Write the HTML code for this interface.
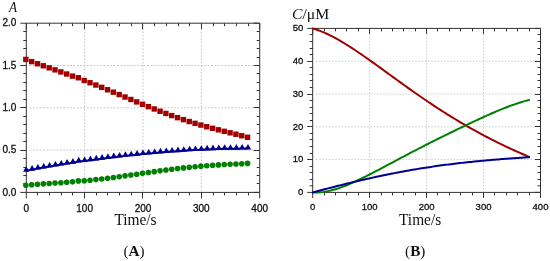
<!DOCTYPE html>
<html><head><meta charset="utf-8"><style>
html,body{margin:0;padding:0;background:#fff;width:550px;height:261px;overflow:hidden}
svg{display:block;will-change:transform}

</style></head><body>
<svg width="550" height="261" viewBox="0 0 550 261">
<rect width="550" height="261" fill="#fff"/>
<path d="M29.66 150.10H259.70 M29.66 107.80H259.70 M29.66 65.50H259.70" stroke="#c4c4c4" stroke-width="1" stroke-dasharray="1.7 1.66" fill="none"/>
<path d="M84.65 23.20V192.40 M143.00 23.20V192.40 M201.35 23.20V192.40" stroke="#c4c4c4" stroke-width="1" stroke-dasharray="1.7 1.66" stroke-dashoffset="1.7" fill="none"/>
<path d="M315.90 159.60H540.50 M315.90 126.80H540.50 M315.90 94.00H540.50 M315.90 61.20H540.50 M369.65 34.40V192.40 M426.60 34.40V192.40 M483.55 34.40V192.40" stroke="#cdcdcd" stroke-width="1" stroke-dasharray="1.6 1.6" fill="none"/>
<path d="M26.30 23.20H259.70V192.40H26.30ZM26.30 192.40v6M26.30 23.20v6M84.50 192.40v6M84.50 23.20v6M142.50 192.40v6M142.50 23.20v6M201.50 192.40v6M201.50 23.20v6M259.70 192.40v6M259.70 23.20v6M37.50 192.40v3M37.50 23.20v3M49.50 192.40v3M49.50 23.20v3M61.50 192.40v3M61.50 23.20v3M72.50 192.40v3M72.50 23.20v3M96.50 192.40v3M96.50 23.20v3M107.50 192.40v3M107.50 23.20v3M119.50 192.40v3M119.50 23.20v3M131.50 192.40v3M131.50 23.20v3M154.50 192.40v3M154.50 23.20v3M166.50 192.40v3M166.50 23.20v3M178.50 192.40v3M178.50 23.20v3M189.50 192.40v3M189.50 23.20v3M213.50 192.40v3M213.50 23.20v3M224.50 192.40v3M224.50 23.20v3M236.50 192.40v3M236.50 23.20v3M248.50 192.40v3M248.50 23.20v3M26.30 192.40h-6M259.70 192.40h-6M26.30 150.50h-6M259.70 150.50h-6M26.30 107.50h-6M259.70 107.50h-6M26.30 65.50h-6M259.70 65.50h-6M26.30 23.20h-6M259.70 23.20h-6M26.30 183.50h-3M259.70 183.50h-3M26.30 175.50h-3M259.70 175.50h-3M26.30 167.50h-3M259.70 167.50h-3M26.30 158.50h-3M259.70 158.50h-3M26.30 141.50h-3M259.70 141.50h-3M26.30 133.50h-3M259.70 133.50h-3M26.30 124.50h-3M259.70 124.50h-3M26.30 116.50h-3M259.70 116.50h-3M26.30 99.50h-3M259.70 99.50h-3M26.30 90.50h-3M259.70 90.50h-3M26.30 82.50h-3M259.70 82.50h-3M26.30 73.50h-3M259.70 73.50h-3M26.30 57.50h-3M259.70 57.50h-3M26.30 48.50h-3M259.70 48.50h-3M26.30 40.50h-3M259.70 40.50h-3M26.30 31.50h-3M259.70 31.50h-3" stroke="#333" stroke-width="1.0" fill="none"/>
<g fill="#008000"><circle cx="25.85" cy="185.19" r="2.8"/><circle cx="31.68" cy="184.70" r="2.8"/><circle cx="37.52" cy="184.26" r="2.8"/><circle cx="43.35" cy="183.87" r="2.8"/><circle cx="49.19" cy="183.49" r="2.8"/><circle cx="55.02" cy="183.11" r="2.8"/><circle cx="60.86" cy="182.71" r="2.8"/><circle cx="66.69" cy="182.29" r="2.8"/><circle cx="72.53" cy="181.84" r="2.8"/><circle cx="78.36" cy="180.88" r="2.8"/><circle cx="84.20" cy="180.82" r="2.8"/><circle cx="90.03" cy="180.23" r="2.8"/><circle cx="95.87" cy="179.61" r="2.8"/><circle cx="101.70" cy="178.93" r="2.8"/><circle cx="107.54" cy="178.22" r="2.8"/><circle cx="113.38" cy="177.47" r="2.8"/><circle cx="119.21" cy="176.68" r="2.8"/><circle cx="125.04" cy="175.87" r="2.8"/><circle cx="130.88" cy="175.04" r="2.8"/><circle cx="136.72" cy="174.19" r="2.8"/><circle cx="142.55" cy="173.34" r="2.8"/><circle cx="148.38" cy="172.49" r="2.8"/><circle cx="154.22" cy="171.66" r="2.8"/><circle cx="160.06" cy="170.84" r="2.8"/><circle cx="165.89" cy="170.05" r="2.8"/><circle cx="171.72" cy="169.29" r="2.8"/><circle cx="177.56" cy="168.57" r="2.8"/><circle cx="183.40" cy="167.89" r="2.8"/><circle cx="189.23" cy="167.26" r="2.8"/><circle cx="195.07" cy="166.68" r="2.8"/><circle cx="200.90" cy="166.16" r="2.8"/><circle cx="206.74" cy="165.68" r="2.8"/><circle cx="212.57" cy="165.26" r="2.8"/><circle cx="218.40" cy="164.88" r="2.8"/><circle cx="224.24" cy="164.55" r="2.8"/><circle cx="230.07" cy="164.25" r="2.8"/><circle cx="235.91" cy="163.96" r="2.8"/><circle cx="241.74" cy="163.69" r="2.8"/><circle cx="247.58" cy="163.41" r="2.8"/></g>
<path fill="#000090" d="M26.25 166.15l3.20 5.60h-6.40zM32.09 165.03l3.20 5.60h-6.40zM37.92 163.95l3.20 5.60h-6.40zM43.76 162.91l3.20 5.60h-6.40zM49.59 161.89l3.20 5.60h-6.40zM55.42 160.90l3.20 5.60h-6.40zM61.26 159.94l3.20 5.60h-6.40zM67.09 159.02l3.20 5.60h-6.40zM72.93 158.12l3.20 5.60h-6.40zM78.77 156.87l3.20 5.60h-6.40zM84.60 156.41l3.20 5.60h-6.40zM90.43 155.59l3.20 5.60h-6.40zM96.27 154.81l3.20 5.60h-6.40zM102.10 154.05l3.20 5.60h-6.40zM107.94 153.31l3.20 5.60h-6.40zM113.78 152.61l3.20 5.60h-6.40zM119.61 151.93l3.20 5.60h-6.40zM125.44 151.27l3.20 5.60h-6.40zM131.28 150.64l3.20 5.60h-6.40zM137.11 150.04l3.20 5.60h-6.40zM142.95 149.46l3.20 5.60h-6.40zM148.78 148.90l3.20 5.60h-6.40zM154.62 148.38l3.20 5.60h-6.40zM160.45 147.87l3.20 5.60h-6.40zM166.29 147.40l3.20 5.60h-6.40zM172.12 146.95l3.20 5.60h-6.40zM177.96 146.53l3.20 5.60h-6.40zM183.79 146.13l3.20 5.60h-6.40zM189.63 145.77l3.20 5.60h-6.40zM195.47 145.43l3.20 5.60h-6.40zM201.30 145.13l3.20 5.60h-6.40zM207.13 144.86l3.20 5.60h-6.40zM212.97 144.62l3.20 5.60h-6.40zM218.80 144.42l3.20 5.60h-6.40zM224.64 144.26l3.20 5.60h-6.40zM230.47 144.13l3.20 5.60h-6.40zM236.31 144.04l3.20 5.60h-6.40zM242.14 144.00l3.20 5.60h-6.40zM247.98 144.01l3.20 5.60h-6.40z"/>
<path fill="none" stroke="#000090" stroke-width="2" d="M26.25 170.75 L32.09 169.63 L37.92 168.55 L43.76 167.51 L49.59 166.49 L55.42 165.50 L61.26 164.54 L67.09 163.62 L72.93 162.72 L78.77 161.47 L84.60 161.01 L90.43 160.19 L96.27 159.41 L102.10 158.65 L107.94 157.91 L113.78 157.21 L119.61 156.53 L125.44 155.87 L131.28 155.24 L137.11 154.64 L142.95 154.06 L148.78 153.50 L154.62 152.98 L160.45 152.47 L166.29 152.00 L172.12 151.55 L177.96 151.13 L183.79 150.73 L189.63 150.37 L195.47 150.03 L201.30 149.73 L207.13 149.46 L212.97 149.22 L218.80 149.02 L224.64 148.86 L230.47 148.73 L236.31 148.64 L242.14 148.60 L247.98 148.61"/>
<g fill="#a00000"><rect x="23.15" y="56.73" width="5.4" height="5.4"/><rect x="28.98" y="58.92" width="5.4" height="5.4"/><rect x="34.82" y="61.03" width="5.4" height="5.4"/><rect x="40.65" y="63.09" width="5.4" height="5.4"/><rect x="46.49" y="65.13" width="5.4" height="5.4"/><rect x="52.32" y="67.17" width="5.4" height="5.4"/><rect x="58.16" y="69.22" width="5.4" height="5.4"/><rect x="63.99" y="71.30" width="5.4" height="5.4"/><rect x="69.83" y="73.42" width="5.4" height="5.4"/><rect x="75.66" y="75.04" width="5.4" height="5.4"/><rect x="81.50" y="77.79" width="5.4" height="5.4"/><rect x="87.33" y="80.04" width="5.4" height="5.4"/><rect x="93.17" y="82.34" width="5.4" height="5.4"/><rect x="99.00" y="84.68" width="5.4" height="5.4"/><rect x="104.84" y="87.06" width="5.4" height="5.4"/><rect x="110.67" y="89.47" width="5.4" height="5.4"/><rect x="116.51" y="91.89" width="5.4" height="5.4"/><rect x="122.34" y="94.33" width="5.4" height="5.4"/><rect x="128.18" y="96.77" width="5.4" height="5.4"/><rect x="134.02" y="99.19" width="5.4" height="5.4"/><rect x="139.85" y="101.59" width="5.4" height="5.4"/><rect x="145.69" y="103.96" width="5.4" height="5.4"/><rect x="151.52" y="106.28" width="5.4" height="5.4"/><rect x="157.36" y="108.56" width="5.4" height="5.4"/><rect x="163.19" y="110.76" width="5.4" height="5.4"/><rect x="169.03" y="112.90" width="5.4" height="5.4"/><rect x="174.86" y="114.96" width="5.4" height="5.4"/><rect x="180.70" y="116.94" width="5.4" height="5.4"/><rect x="186.53" y="118.83" width="5.4" height="5.4"/><rect x="192.37" y="120.64" width="5.4" height="5.4"/><rect x="198.20" y="122.37" width="5.4" height="5.4"/><rect x="204.04" y="124.02" width="5.4" height="5.4"/><rect x="209.87" y="125.60" width="5.4" height="5.4"/><rect x="215.70" y="127.13" width="5.4" height="5.4"/><rect x="221.54" y="128.62" width="5.4" height="5.4"/><rect x="227.38" y="130.08" width="5.4" height="5.4"/><rect x="233.21" y="131.55" width="5.4" height="5.4"/><rect x="239.04" y="133.05" width="5.4" height="5.4"/><rect x="244.88" y="134.62" width="5.4" height="5.4"/></g>
<path d="M312.70 28.40H540.50V192.40H312.70ZM312.70 192.40v5.5M312.70 28.40v5.5M369.50 192.40v5.5M369.50 28.40v5.5M426.50 192.40v5.5M426.50 28.40v5.5M483.50 192.40v5.5M483.50 28.40v5.5M540.50 192.40v5.5M540.50 28.40v5.5M324.50 192.40v3.0M324.50 28.40v3.0M335.50 192.40v3.0M335.50 28.40v3.0M346.50 192.40v3.0M346.50 28.40v3.0M358.50 192.40v3.0M358.50 28.40v3.0M381.50 192.40v3.0M381.50 28.40v3.0M392.50 192.40v3.0M392.50 28.40v3.0M403.50 192.40v3.0M403.50 28.40v3.0M415.50 192.40v3.0M415.50 28.40v3.0M437.50 192.40v3.0M437.50 28.40v3.0M449.50 192.40v3.0M449.50 28.40v3.0M460.50 192.40v3.0M460.50 28.40v3.0M472.50 192.40v3.0M472.50 28.40v3.0M494.50 192.40v3.0M494.50 28.40v3.0M506.50 192.40v3.0M506.50 28.40v3.0M517.50 192.40v3.0M517.50 28.40v3.0M529.50 192.40v3.0M529.50 28.40v3.0M312.70 192.40h-5.5M540.50 192.40h-5.5M312.70 159.50h-5.5M540.50 159.50h-5.5M312.70 126.50h-5.5M540.50 126.50h-5.5M312.70 94.50h-5.5M540.50 94.50h-5.5M312.70 61.50h-5.5M540.50 61.50h-5.5M312.70 28.40h-5.5M540.50 28.40h-5.5M312.70 185.84h-3.0M540.50 185.84h-3.0M312.70 179.50h-3.0M540.50 179.50h-3.0M312.70 172.50h-3.0M540.50 172.50h-3.0M312.70 166.50h-3.0M540.50 166.50h-3.0M312.70 153.50h-3.0M540.50 153.50h-3.0M312.70 146.50h-3.0M540.50 146.50h-3.0M312.70 139.50h-3.0M540.50 139.50h-3.0M312.70 133.50h-3.0M540.50 133.50h-3.0M312.70 120.50h-3.0M540.50 120.50h-3.0M312.70 113.50h-3.0M540.50 113.50h-3.0M312.70 107.50h-3.0M540.50 107.50h-3.0M312.70 100.50h-3.0M540.50 100.50h-3.0M312.70 87.50h-3.0M540.50 87.50h-3.0M312.70 80.50h-3.0M540.50 80.50h-3.0M312.70 74.50h-3.0M540.50 74.50h-3.0M312.70 67.50h-3.0M540.50 67.50h-3.0M312.70 54.50h-3.0M540.50 54.50h-3.0M312.70 48.50h-3.0M540.50 48.50h-3.0M312.70 41.50h-3.0M540.50 41.50h-3.0M312.70 34.50h-3.0M540.50 34.50h-3.0" stroke="#333" stroke-width="1.0" fill="none"/>
<path d="M312.70 28.40 L314.52 28.96 L316.34 29.56 L318.16 30.20 L319.97 30.89 L321.79 31.62 L323.61 32.38 L325.43 33.18 L327.25 34.02 L329.07 34.89 L330.89 35.79 L332.70 36.72 L334.52 37.68 L336.34 38.67 L338.16 39.68 L339.98 40.72 L341.80 41.79 L343.62 42.87 L345.43 43.98 L347.25 45.10 L349.07 46.25 L350.89 47.41 L352.71 48.59 L354.53 49.79 L356.35 51.00 L358.16 52.22 L359.98 53.46 L361.80 54.70 L363.62 55.96 L365.44 57.23 L367.26 58.50 L369.08 59.78 L370.89 61.08 L372.71 62.37 L374.53 63.67 L376.35 64.98 L378.17 66.29 L379.99 67.61 L381.81 68.92 L383.62 70.24 L385.44 71.57 L387.26 72.89 L389.08 74.21 L390.90 75.53 L392.72 76.85 L394.54 78.17 L396.35 79.49 L398.17 80.81 L399.99 82.12 L401.81 83.43 L403.63 84.73 L405.45 86.04 L407.27 87.34 L409.08 88.63 L410.90 89.92 L412.72 91.20 L414.54 92.48 L416.36 93.75 L418.18 95.02 L420.00 96.28 L421.81 97.53 L423.63 98.78 L425.45 100.02 L427.27 101.25 L429.09 102.47 L430.91 103.69 L432.73 104.90 L434.54 106.10 L436.36 107.30 L438.18 108.48 L440.00 109.66 L441.82 110.83 L443.64 111.99 L445.46 113.14 L447.27 114.28 L449.09 115.42 L450.91 116.55 L452.73 117.66 L454.55 118.77 L456.37 119.87 L458.19 120.97 L460.00 122.05 L461.82 123.12 L463.64 124.19 L465.46 125.24 L467.28 126.29 L469.10 127.33 L470.92 128.36 L472.73 129.38 L474.55 130.40 L476.37 131.40 L478.19 132.39 L480.01 133.38 L481.83 134.36 L483.65 135.33 L485.46 136.29 L487.28 137.24 L489.10 138.19 L490.92 139.12 L492.74 140.05 L494.56 140.97 L496.38 141.88 L498.19 142.78 L500.01 143.67 L501.83 144.56 L503.65 145.43 L505.47 146.30 L507.29 147.16 L509.11 148.01 L510.92 148.85 L512.74 149.69 L514.56 150.51 L516.38 151.33 L518.20 152.14 L520.02 152.94 L521.84 153.73 L523.65 154.52 L525.47 155.29 L527.29 156.06 L529.11 156.81" stroke="#a00000" stroke-width="2" fill="none" stroke-linejoin="round" stroke-linecap="round"/>
<path d="M312.70 192.40 L314.52 192.48 L316.34 192.48 L318.16 192.43 L319.97 192.31 L321.79 192.13 L323.61 191.90 L325.43 191.61 L327.25 191.28 L329.07 190.89 L330.89 190.46 L332.70 189.99 L334.52 189.48 L336.34 188.93 L338.16 188.35 L339.98 187.73 L341.80 187.08 L343.62 186.41 L345.43 185.70 L347.25 184.97 L349.07 184.21 L350.89 183.43 L352.71 182.63 L354.53 181.82 L356.35 180.98 L358.16 180.13 L359.98 179.26 L361.80 178.38 L363.62 177.49 L365.44 176.59 L367.26 175.67 L369.08 174.75 L370.89 173.82 L372.71 172.88 L374.53 171.93 L376.35 170.98 L378.17 170.03 L379.99 169.07 L381.81 168.11 L383.62 167.14 L385.44 166.18 L387.26 165.21 L389.08 164.24 L390.90 163.27 L392.72 162.30 L394.54 161.33 L396.35 160.36 L398.17 159.40 L399.99 158.43 L401.81 157.47 L403.63 156.51 L405.45 155.55 L407.27 154.59 L409.08 153.64 L410.90 152.68 L412.72 151.73 L414.54 150.79 L416.36 149.85 L418.18 148.91 L420.00 147.97 L421.81 147.03 L423.63 146.10 L425.45 145.18 L427.27 144.25 L429.09 143.33 L430.91 142.41 L432.73 141.50 L434.54 140.58 L436.36 139.67 L438.18 138.77 L440.00 137.86 L441.82 136.96 L443.64 136.06 L445.46 135.17 L447.27 134.28 L449.09 133.39 L450.91 132.50 L452.73 131.61 L454.55 130.73 L456.37 129.85 L458.19 128.97 L460.00 128.10 L461.82 127.23 L463.64 126.36 L465.46 125.49 L467.28 124.63 L469.10 123.77 L470.92 122.92 L472.73 122.06 L474.55 121.21 L476.37 120.37 L478.19 119.53 L480.01 118.69 L481.83 117.86 L483.65 117.03 L485.46 116.21 L487.28 115.40 L489.10 114.59 L490.92 113.79 L492.74 112.99 L494.56 112.21 L496.38 111.43 L498.19 110.66 L500.01 109.91 L501.83 109.16 L503.65 108.42 L505.47 107.70 L507.29 106.99 L509.11 106.30 L510.92 105.62 L512.74 104.96 L514.56 104.32 L516.38 103.69 L518.20 103.09 L520.02 102.51 L521.84 101.95 L523.65 101.41 L525.47 100.90 L527.29 100.42 L529.11 99.97" stroke="#008000" stroke-width="2" fill="none" stroke-linejoin="round" stroke-linecap="round"/>
<path d="M312.70 192.40 L314.52 191.92 L316.34 191.45 L318.16 190.97 L319.97 190.50 L321.79 190.02 L323.61 189.55 L325.43 189.08 L327.25 188.61 L329.07 188.14 L330.89 187.67 L332.70 187.21 L334.52 186.74 L336.34 186.28 L338.16 185.82 L339.98 185.37 L341.80 184.91 L343.62 184.46 L345.43 184.01 L347.25 183.56 L349.07 183.12 L350.89 182.68 L352.71 182.24 L354.53 181.80 L356.35 181.37 L358.16 180.94 L359.98 180.51 L361.80 180.09 L363.62 179.67 L365.44 179.26 L367.26 178.84 L369.08 178.43 L370.89 178.03 L372.71 177.63 L374.53 177.23 L376.35 176.83 L378.17 176.44 L379.99 176.06 L381.81 175.68 L383.62 175.30 L385.44 174.92 L387.26 174.55 L389.08 174.18 L390.90 173.82 L392.72 173.46 L394.54 173.11 L396.35 172.76 L398.17 172.41 L399.99 172.07 L401.81 171.73 L403.63 171.40 L405.45 171.07 L407.27 170.74 L409.08 170.42 L410.90 170.10 L412.72 169.79 L414.54 169.48 L416.36 169.18 L418.18 168.88 L420.00 168.58 L421.81 168.29 L423.63 168.00 L425.45 167.72 L427.27 167.44 L429.09 167.16 L430.91 166.89 L432.73 166.62 L434.54 166.36 L436.36 166.10 L438.18 165.84 L440.00 165.59 L441.82 165.34 L443.64 165.10 L445.46 164.86 L447.27 164.62 L449.09 164.39 L450.91 164.16 L452.73 163.94 L454.55 163.72 L456.37 163.50 L458.19 163.29 L460.00 163.08 L461.82 162.87 L463.64 162.66 L465.46 162.46 L467.28 162.27 L469.10 162.08 L470.92 161.89 L472.73 161.70 L474.55 161.51 L476.37 161.33 L478.19 161.16 L480.01 160.98 L481.83 160.81 L483.65 160.64 L485.46 160.48 L487.28 160.31 L489.10 160.15 L490.92 160.00 L492.74 159.84 L494.56 159.69 L496.38 159.54 L498.19 159.39 L500.01 159.25 L501.83 159.10 L503.65 158.96 L505.47 158.83 L507.29 158.69 L509.11 158.56 L510.92 158.42 L512.74 158.30 L514.56 158.17 L516.38 158.04 L518.20 157.92 L520.02 157.79 L521.84 157.67 L523.65 157.55 L525.47 157.44 L527.29 157.32 L529.11 157.21" stroke="#000090" stroke-width="2" fill="none" stroke-linejoin="round" stroke-linecap="round"/>
<g fill="#111" stroke="#111" stroke-width="0.3"><text x="16.3" y="195.60" text-anchor="end" font-family="Liberation Sans, sans-serif" font-size="10">0.0</text><text x="16.3" y="153.30" text-anchor="end" font-family="Liberation Sans, sans-serif" font-size="10">0.5</text><text x="16.3" y="111.00" text-anchor="end" font-family="Liberation Sans, sans-serif" font-size="10">1.0</text><text x="16.3" y="68.70" text-anchor="end" font-family="Liberation Sans, sans-serif" font-size="10">1.5</text><text x="16.3" y="26.40" text-anchor="end" font-family="Liberation Sans, sans-serif" font-size="10">2.0</text><text x="26.30" y="211.5" text-anchor="middle" font-family="Liberation Sans, sans-serif" font-size="10">0</text><text x="84.65" y="211.5" text-anchor="middle" font-family="Liberation Sans, sans-serif" font-size="10">100</text><text x="143.00" y="211.5" text-anchor="middle" font-family="Liberation Sans, sans-serif" font-size="10">200</text><text x="201.35" y="211.5" text-anchor="middle" font-family="Liberation Sans, sans-serif" font-size="10">300</text><text x="259.70" y="211.5" text-anchor="middle" font-family="Liberation Sans, sans-serif" font-size="10">400</text><text x="303.3" y="195.10" text-anchor="end" font-family="Liberation Sans, sans-serif" font-size="9.5">0</text><text x="303.3" y="162.30" text-anchor="end" font-family="Liberation Sans, sans-serif" font-size="9.5">10</text><text x="303.3" y="129.50" text-anchor="end" font-family="Liberation Sans, sans-serif" font-size="9.5">20</text><text x="303.3" y="96.70" text-anchor="end" font-family="Liberation Sans, sans-serif" font-size="9.5">30</text><text x="303.3" y="63.90" text-anchor="end" font-family="Liberation Sans, sans-serif" font-size="9.5">40</text><text x="303.3" y="31.10" text-anchor="end" font-family="Liberation Sans, sans-serif" font-size="9.5">50</text><text x="312.70" y="209.9" text-anchor="middle" font-family="Liberation Sans, sans-serif" font-size="9.5">0</text><text x="369.65" y="209.9" text-anchor="middle" font-family="Liberation Sans, sans-serif" font-size="9.5">100</text><text x="426.60" y="209.9" text-anchor="middle" font-family="Liberation Sans, sans-serif" font-size="9.5">200</text><text x="483.55" y="209.9" text-anchor="middle" font-family="Liberation Sans, sans-serif" font-size="9.5">300</text><text x="540.50" y="209.9" text-anchor="middle" font-family="Liberation Sans, sans-serif" font-size="9.5">400</text><text transform="translate(114.4 224.6) scale(0.975 1)" font-family="Liberation Serif, serif" stroke="none" font-size="15.8">Time/s</text><text transform="translate(399.0 224.6) scale(0.975 1)" font-family="Liberation Serif, serif" stroke="none" font-size="15.8">Time/s</text><text transform="translate(9.0 11.9) scale(0.88 1)" font-family="Liberation Serif, serif" stroke="none" font-size="15" font-style="italic">A</text><text transform="translate(291.9 18.8) scale(1.125 1)" font-family="Liberation Serif, serif" stroke="none" font-size="14"><tspan font-style="italic">C</tspan>/μM</text><text x="123.4" y="256.3" font-family="Liberation Serif, serif" stroke="none" font-size="15.2">(<tspan font-weight="bold">A</tspan>)</text><text x="405.1" y="256.3" font-family="Liberation Serif, serif" stroke="none" font-size="15.2">(<tspan font-weight="bold">B</tspan>)</text></g>
</svg>
</body></html>
